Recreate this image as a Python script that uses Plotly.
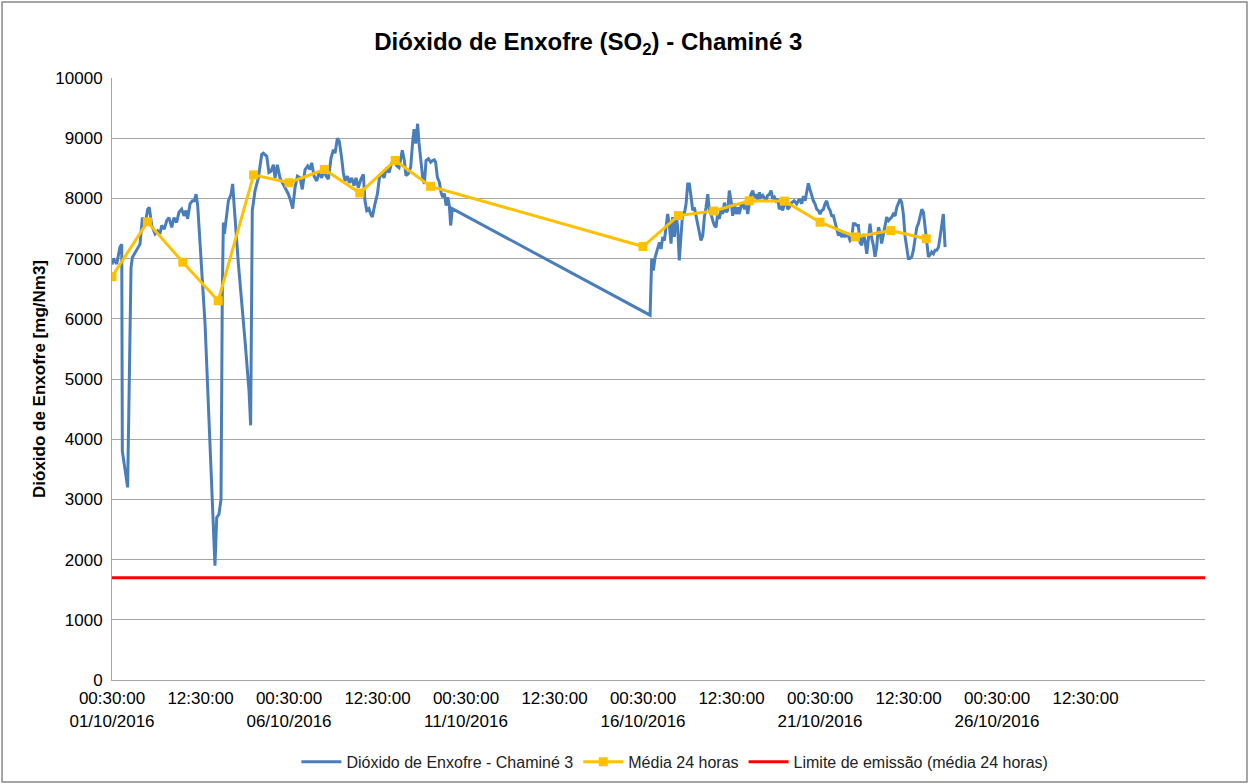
import pandas as pd
import plotly.graph_objects as go

START = pd.Timestamp("2016-10-01 00:30:00")

# Hourly SO2 readings (hours since 01/10/2016 00:30) and values [mg/Nm3]
so2_hours = [0, 1, 3.2, 5.4, 6.6, 7.0, 10.6, 12.9, 13.8, 16.7, 19.0, 20.6, 22.4, 24.2, 25.3, 26.9,
             29.2, 31.0, 32.5, 33.7, 35.5, 37.1, 38.6, 40.5, 42.0, 43.8, 45.4, 47.2, 48.8, 50.2,
             51.3, 52.9, 54.5, 55.8, 57.0, 58.1, 63.1, 69.8, 71.0, 72.5, 73.9, 74.8, 75.5, 76.2,
             77.1, 78.9, 80.7, 81.8, 82.9, 85.7, 90.2, 92.9, 94.0, 94.7, 95.1,
             97.0, 99.2, 101.5, 102.6, 104.9, 106.4, 107.8, 109.4, 110.5, 112.1, 113.9, 115.5,
             116.8, 118.4, 119.6, 121.1, 122.5, 124.1, 125.7, 127.5, 129.0, 130.9, 132.7, 134.2,
             135.4, 137.0, 138.8, 140.3, 142.2, 143.7, 145.1, 146.7, 148.5, 150.1, 151.2, 152.8,
             154.1, 155.7, 156.8, 158.0, 159.6, 160.9, 162.5, 164.1, 165.4, 167.0, 168.8, 170.4,
             171.5, 172.7, 174.2, 175.4, 176.5, 178.3, 179.9, 181.3, 182.8, 184.4, 186.2, 187.8,
             189.6, 191.4, 193.0, 194.6, 196.8, 198.2, 199.3, 200.9, 202.5, 203.9, 204.8, 205.9,
             207.2, 208.1, 209.5, 210.6, 211.8, 212.9, 214.5, 216.1, 217.4, 218.5, 219.4, 220.6,
             221.9, 223.1, 224.2, 225.3, 226.5, 227.6, 228.7, 229.6, 230.7,
             364.8, 365.9, 367.0, 368.2, 369.7, 371.1, 372.2, 373.4, 374.5, 375.6, 376.7, 377.9,
             379.0, 380.1, 381.3, 382.4, 383.5, 384.6, 385.8, 386.9, 388.0, 389.2, 390.3, 391.4,
             392.6, 393.7, 394.8, 396.4, 398.0, 399.3, 400.5, 401.6, 402.7, 403.9, 405.0, 406.1,
             407.3, 408.4, 409.5, 410.6, 411.8, 412.9, 414.0, 415.2, 416.3, 417.4, 418.5, 419.7,
             420.8, 421.9, 423.1, 424.2, 425.3, 426.5, 427.6, 428.7, 429.9, 431.0, 432.1, 433.2,
             434.4, 435.5, 436.6, 437.8, 438.9, 440.0, 441.2, 442.3, 443.4, 444.5, 445.7, 446.8,
             447.9, 449.1, 450.2, 451.3, 452.4, 453.6, 454.7, 455.8, 457.0, 458.1, 459.2, 460.8,
             462.4, 464.2, 466.0, 467.6, 468.7, 469.9, 471.0, 472.1, 473.2, 474.4, 475.5, 476.6,
             477.8, 478.9, 480.0, 481.2, 482.3, 483.4, 484.5, 485.7, 486.8, 487.9, 489.1, 490.2,
             491.3, 492.5, 493.6, 494.7, 495.8, 497.0, 498.1, 499.2, 500.4, 501.5, 502.6, 503.8,
             504.9, 506.0, 507.1, 508.3, 509.4, 510.5, 511.7, 512.8, 513.9, 515.1, 516.2, 517.3,
             518.4, 519.6, 520.7, 521.8, 523.0, 524.1, 525.2, 526.4, 527.5, 528.6, 529.7, 530.9,
             532.0, 533.1, 534.3, 535.4, 536.5, 537.7, 538.8, 539.9, 541.0, 542.2, 543.3, 544.4,
             545.6, 546.7, 547.8, 549.0, 550.1, 551.2, 552.3, 553.5, 554.6, 555.7, 556.9, 558.0,
             559.1, 560.3, 561.4, 562.5, 563.6, 564.8]
so2_values = [6900, 7000, 6910, 7190, 7240, 3800, 3200, 6850, 7020, 7130, 7240, 7680, 7570, 7820, 7850, 7550,
              7410, 7460, 7410, 7550, 7490, 7630, 7680, 7520, 7680, 7600, 7770, 7820, 7710, 7800,
              7660, 7910, 7960, 7960, 8070, 7880, 5910, 1900, 2700, 2750, 3000, 6470, 7600, 7410,
              7630, 7960, 8070, 8240, 7850, 6910, 5630, 4800, 4230, 6470, 7800,
              8130, 8340, 8730, 8750, 8700, 8430, 8450, 8560, 8340, 8560, 8340, 8260,
              8210, 8130, 8070, 7960, 7830, 8180, 8370, 8340, 8150, 8480, 8540, 8480,
              8590, 8370, 8290, 8430, 8340, 8480, 8370, 8320, 8670, 8810, 8750, 9000,
              8950, 8670, 8430, 8290, 8370, 8260, 8340, 8210, 8340, 8180, 8320, 8400,
              7960, 7800, 7830, 7740, 7690, 7910, 8070, 8340, 8430, 8340, 8510, 8430,
              8590, 8620, 8540, 8510, 8800, 8630, 8380, 8410, 8520, 8960, 9150, 8910,
              9240, 8930, 8630, 8350, 8240, 8630, 8660, 8600, 8630, 8640, 8600, 8350,
              8270, 8100, 8020, 8080, 7880, 8020, 7880, 7550, 7830,
              6060, 7000, 6800, 7020, 7130, 7270, 7160, 7360, 7300, 7520, 7740, 7550,
              7250, 7690, 7360, 7740, 7520, 6970, 7470, 7770, 7740, 7910, 8240, 8240,
              8020, 7800, 7850, 7630, 7470, 7300, 7380, 7690, 7850, 8070, 7800, 7740,
              7630, 7550, 7520, 7740, 7660, 7820, 7740, 7930, 7770, 7800, 8130, 7960,
              7710, 7910, 7740, 7850, 7740, 7880, 7930, 7820, 7910, 7740, 7910, 8070,
              8130, 8020, 8070, 7960, 8100, 8020, 8050, 7990, 7960, 8050, 8070, 8130,
              7990, 8020, 7960, 7990, 7820, 7880, 7800, 7910, 7960, 7820, 7850, 7930,
              7960, 7910, 7990, 7910, 8040, 7960, 8130, 8250, 8150, 8040, 7960, 7910,
              7820, 7800, 7740, 7800, 7820, 7910, 7960, 7850, 7800, 7710, 7710, 7600,
              7470, 7380, 7440, 7360, 7410, 7360, 7410, 7380, 7300, 7330, 7580, 7580,
              7550, 7550, 7270, 7220, 7410, 7300, 7080, 7360, 7580, 7330, 7220, 7030,
              7190, 7520, 7440, 7250, 7410, 7600, 7690, 7630, 7660, 7690, 7740, 7710,
              7850, 7910, 7990, 7930, 7740, 7360, 7140, 7000, 7000, 7030, 7140, 7360,
              7520, 7580, 7710, 7820, 7770, 7520, 7250, 7030, 7060, 7110, 7080, 7140,
              7140, 7190, 7360, 7580, 7740, 7190]

# 24-hour means (days since 01/10/2016 00:30)
mean_days = [0, 1, 2, 3, 4, 5, 6, 7, 8, 9, 15, 16, 17, 18, 19, 20, 21, 22, 23]
mean_values = [6700, 7610, 6940, 6300, 8390, 8260, 8480, 8090, 8630, 8200,
               7200, 7715, 7790, 7960, 7955, 7605, 7360, 7465, 7330]

# Emission limit (24-hour mean)
limit_value = 1700

# Axis
x_end = pd.Timestamp("2016-10-31 21:30:00")
tick_hours = [0, 60, 120, 180, 240, 300, 360, 420, 480, 540, 600, 660]
tick_labels = ["00:30:00<br>01/10/2016", "12:30:00", "00:30:00<br>06/10/2016", "12:30:00",
               "00:30:00<br>11/10/2016", "12:30:00", "00:30:00<br>16/10/2016", "12:30:00",
               "00:30:00<br>21/10/2016", "12:30:00", "00:30:00<br>26/10/2016", "12:30:00"]

so2_x = [START + pd.Timedelta(hours=h) for h in so2_hours]
mean_x = [START + pd.Timedelta(days=d) for d in mean_days]
tick_x = [START + pd.Timedelta(hours=h) for h in tick_hours]

FONT = "Liberation Sans, Arial, sans-serif"

fig = go.Figure()
fig.add_trace(go.Scatter(x=so2_x, y=so2_values, mode="lines",
                         name="Dióxido de Enxofre - Chaminé 3",
                         line=dict(color="#4A7EBB", width=3)))
fig.add_trace(go.Scatter(x=mean_x, y=mean_values, mode="lines+markers",
                         name="Média 24 horas",
                         line=dict(color="#FFC000", width=3),
                         marker=dict(symbol="square", size=9, color="#FFC000")))
fig.add_trace(go.Scatter(x=[START, x_end], y=[limit_value, limit_value], mode="lines",
                         name="Limite de emissão (média 24 horas)",
                         line=dict(color="#FF0000", width=3)))

fig.update_layout(
    width=1249, height=784,
    margin=dict(l=112, r=44, t=78, b=104, autoexpand=False),
    paper_bgcolor="white", plot_bgcolor="white",
    font=dict(family=FONT, size=16, color="#000000"),
    title=dict(text="<b>Dióxido de Enxofre (SO<sub>2</sub>) - Chaminé 3</b>",
               x=0.471, xanchor="center", y=0.947, yanchor="middle",
               font=dict(family=FONT, size=24, color="#000000")),
    showlegend=True,
    legend=dict(orientation="h", x=0.515, xanchor="center", y=-0.136, yanchor="middle",
                font=dict(family=FONT, size=16, color="#222222"), itemwidth=40,
                traceorder="normal"),
    xaxis=dict(type="date", range=[START, x_end], tickmode="array", tickvals=tick_x,
               ticktext=tick_labels, showgrid=False, showline=True, linecolor="#A6A6A6",
               linewidth=1, tickfont=dict(family=FONT, size=17, color="#000000"),
               ticks="", zeroline=False, automargin=False, ticklabelstandoff=3),
    yaxis=dict(range=[0, 10000], tickmode="linear", tick0=0, dtick=1000, tickformat="d",
               showgrid=True, gridcolor="#A6A6A6", gridwidth=1,
               showline=True, linecolor="#A6A6A6", linewidth=1, zeroline=False,
               tickfont=dict(family=FONT, size=17, color="#000000"), automargin=False,
               ticklabelstandoff=5,
               title=dict(text="<b>Dióxido de Enxofre [mg/Nm3]</b>", standoff=5,
                          font=dict(family=FONT, size=17, color="#000000"))),
)

# Outer chart border
fig.add_shape(type="rect", xref="paper", yref="paper",
              x0=-0.1006, x1=1.0384, y0=-0.1694, y1=1.1262,
              line=dict(color="#888888", width=1.5), fillcolor="rgba(0,0,0,0)", layer="below")

fig.write_html("out.html", config={"displayModeBar": False},
               post_script="document.body.style.margin='0';document.body.style.overflow='hidden';")
